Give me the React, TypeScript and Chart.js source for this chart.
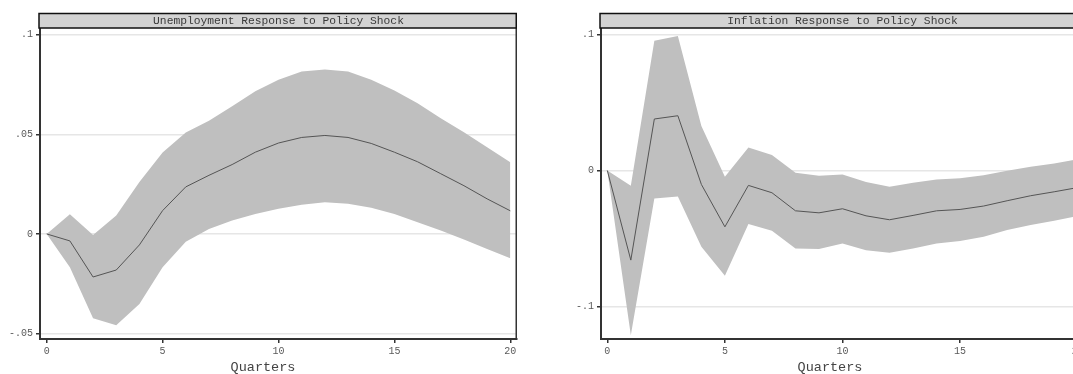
import React, { useEffect, useRef } from "react";
import { Chart, registerables } from "chart.js";

Chart.register(...registerables);

// ---------- data ----------
const quarters = [0, 1, 2, 3, 4, 5, 6, 7, 8, 9, 10, 11, 12, 13, 14, 15, 16, 17, 18, 19, 20];

const unempIrf = [0, -0.0035, -0.0216, -0.0181, -0.0055, 0.0117, 0.0236, 0.0294, 0.0348, 0.041, 0.0456, 0.0484, 0.0494, 0.0484, 0.0454, 0.041, 0.0362, 0.0302, 0.0242, 0.0176, 0.0116];
const unempUpper = [0, 0.0099, -0.0005, 0.0093, 0.026, 0.0408, 0.0509, 0.0568, 0.064, 0.0716, 0.0773, 0.0815, 0.0825, 0.0815, 0.0773, 0.072, 0.0655, 0.058, 0.051, 0.0435, 0.0359];
const unempLower = [0, -0.0167, -0.0423, -0.0458, -0.0351, -0.0167, -0.0039, 0.0025, 0.0067, 0.01, 0.0126, 0.0147, 0.0159, 0.0151, 0.0131, 0.01, 0.0059, 0.0017, -0.0028, -0.0075, -0.0122];

const inflIrf = [0, -0.066, 0.0379, 0.0403, -0.0103, -0.0415, -0.011, -0.0164, -0.0297, -0.0312, -0.0282, -0.0334, -0.0363, -0.0331, -0.0297, -0.0287, -0.0262, -0.0223, -0.0186, -0.0157, -0.0126];
const inflUpper = [0, -0.0113, 0.0956, 0.099, 0.0327, -0.0046, 0.017, 0.0113, -0.0017, -0.0039, -0.0029, -0.0085, -0.012, -0.009, -0.0066, -0.0058, -0.0036, -0.0002, 0.0027, 0.0052, 0.0082];
const inflLower = [0, -0.1213, -0.0206, -0.0191, -0.0562, -0.0776, -0.0395, -0.0444, -0.0574, -0.0579, -0.0537, -0.0587, -0.0606, -0.0574, -0.0537, -0.052, -0.0488, -0.0439, -0.0402, -0.0371, -0.0336];

const xTickValues = [0, 5, 10, 15, 20];
const unempTickValues = [-0.05, 0, 0.05, 0.1];
const inflTickValues = [-0.1, 0, 0.1];

const unempTitle = "Unemployment Response to Policy Shock";
const inflTitle = "Inflation Response to Policy Shock";
const xAxisTitle = "Quarters";

// ---------- styling ----------
const FONT = "'Liberation Mono', 'DejaVu Sans Mono', monospace";
const BAND = "#bfbfbf";
const LINE = "#555555";
const GRID = "#e6e6e6";
const AXIS = "#333333";

function stataFmt(v: number): string {
  const n = +v.toFixed(4);
  if (n === 0) return "0";
  let s = String(n);
  s = s.replace("0.", ".");
  return s;
}

type PanelCfg = {
  title: string;
  irf: number[];
  upper: number[];
  lower: number[];
  yTicks: number[];
  yMin: number;
  yMax: number;
  xMin: number;
  xMax: number;
  rightPad: number;
  xTitleX: number;
};

function makeChart(canvas: HTMLCanvasElement, cfg: PanelCfg) {
  const pts = (arr: number[]) => quarters.map((q, i) => ({ x: q, y: arr[i] }));
  const framePlugin = {
    id: "frame",
    afterDraw(chart: any) {
      const { ctx, chartArea: a } = chart;
      ctx.save();
      // right border
      ctx.strokeStyle = AXIS;
      ctx.lineWidth = 1.5;
      ctx.beginPath();
      ctx.moveTo(a.right - 0.75, a.top);
      ctx.lineTo(a.right - 0.75, a.bottom);
      ctx.stroke();
      // title bar
      const top = 13.5;
      ctx.fillStyle = "#d3d3d3";
      ctx.fillRect(a.left - 1, top, a.right - a.left + 1, a.top - top);
      ctx.strokeStyle = "#111111";
      ctx.lineWidth = 1.5;
      ctx.strokeRect(a.left - 1, top, a.right - a.left + 0.25, a.top - top);
      ctx.fillStyle = "#3a3a3a";
      ctx.font = `11.3px ${FONT}`;
      ctx.textAlign = "center";
      ctx.textBaseline = "middle";
      ctx.fillText(cfg.title, (a.left + a.right) / 2, (top + a.top) / 2 + 0.5);
      // x axis title
      ctx.fillStyle = "#444444";
      ctx.font = `13.5px ${FONT}`;
      ctx.fillText(xAxisTitle, cfg.xTitleX, 367);
      ctx.restore();
    },
  };

  return new Chart(canvas, {
    type: "line",
    data: {
      datasets: [
        {
          data: pts(cfg.upper),
          fill: "+1",
          backgroundColor: BAND,
          borderWidth: 0,
          borderColor: "rgba(0,0,0,0)",
          pointRadius: 0,
          tension: 0,
          order: 2,
        },
        {
          data: pts(cfg.lower),
          fill: false,
          borderWidth: 0,
          borderColor: "rgba(0,0,0,0)",
          pointRadius: 0,
          tension: 0,
          order: 3,
        },
        {
          data: pts(cfg.irf),
          fill: false,
          borderColor: LINE,
          borderWidth: 1,
          pointRadius: 0,
          tension: 0,
          order: 0,
        },
      ],
    },
    options: {
      animation: false,
      responsive: false,
      devicePixelRatio: 1,
      layout: { padding: { top: 28, right: cfg.rightPad, left: 0, bottom: 0 } },
      plugins: {
        legend: { display: false },
        tooltip: { enabled: false },
        title: { display: false },
      },
      scales: {
        x: {
          type: "linear",
          min: cfg.xMin,
          max: cfg.xMax,
          afterBuildTicks: (s: any) => {
            s.ticks = xTickValues.map((v) => ({ value: v }));
          },
          afterFit: (s: any) => {
            s.height = 35;
          },
          grid: {
            drawOnChartArea: false,
            drawTicks: true,
            tickLength: 4,
            tickColor: AXIS,
            lineWidth: 1.5,
          },
          border: { display: true, color: AXIS, width: 2 },
          ticks: {
            padding: 2,
            maxRotation: 0,
            autoSkip: false,
            color: "#5a5a5a",
            font: { family: FONT, size: 10 },
            callback: (v: any) => stataFmt(Number(v)),
          },
        },
        y: {
          type: "linear",
          min: cfg.yMin,
          max: cfg.yMax,
          afterBuildTicks: (s: any) => {
            s.ticks = cfg.yTicks.map((v) => ({ value: v }));
          },
          afterFit: (s: any) => {
            s.width = 40;
          },
          grid: {
            color: GRID,
            lineWidth: 1.5,
            drawTicks: true,
            tickLength: 4,
            tickColor: AXIS,
          },
          border: { display: true, color: AXIS, width: 2 },
          ticks: {
            padding: 3,
            autoSkip: false,
            color: "#5a5a5a",
            font: { family: FONT, size: 10 },
            callback: (v: any) => stataFmt(Number(v)),
          },
        },
      },
    },
    plugins: [framePlugin],
  } as any);
}

function Panel(props: { cfg: PanelCfg; left: number; width: number }) {
  const ref = useRef<HTMLCanvasElement | null>(null);
  useEffect(() => {
    if (!ref.current) return;
    const chart = makeChart(ref.current, props.cfg);
    return () => chart.destroy();
  }, []);
  return (
    <canvas
      ref={ref}
      width={props.width}
      height={374}
      style={{ position: "absolute", left: props.left, top: 0, width: props.width, height: 374 }}
    />
  );
}

const unempCfg: PanelCfg = {
  title: unempTitle,
  irf: unempIrf,
  upper: unempUpper,
  lower: unempLower,
  yTicks: unempTickValues,
  yMin: -0.0527,
  yMax: 0.1033,
  xMin: -0.289,
  xMax: 20.289,
  rightPad: 44,
  xTitleX: 263,
};

const inflCfg: PanelCfg = {
  title: inflTitle,
  irf: inflIrf,
  upper: inflUpper,
  lower: inflLower,
  yTicks: inflTickValues,
  yMin: -0.1241,
  yMax: 0.1049,
  xMin: -0.268,
  xMax: 20.268,
  rightPad: 47,
  xTitleX: 269,
};

export default function App() {
  return (
    <div
      style={{
        position: "fixed",
        left: 0,
        top: 0,
        width: 1073,
        height: 374,
        overflow: "hidden",
        background: "#ffffff",
      }}
    >
      <Panel cfg={unempCfg} left={0} width={561} />
      <Panel cfg={inflCfg} left={561} width={570} />
    </div>
  );
}
